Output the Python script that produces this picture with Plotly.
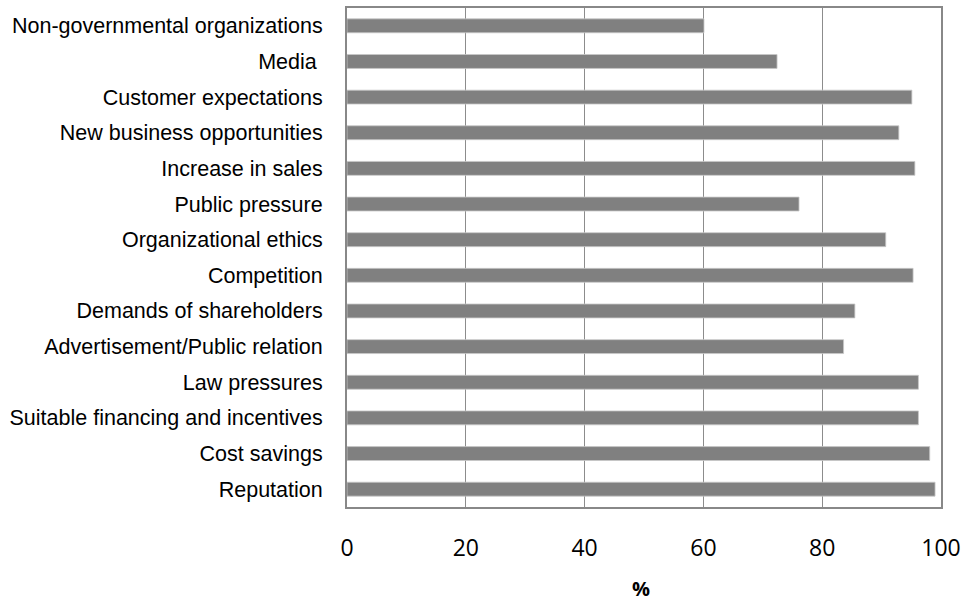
import plotly.graph_objects as go

categories = [
    "Non-governmental organizations",
    "Media ",
    "Customer expectations",
    "New business opportunities",
    "Increase in sales",
    "Public pressure",
    "Organizational ethics",
    "Competition",
    "Demands of shareholders",
    "Advertisement/Public relation",
    "Law pressures",
    "Suitable financing and incentives",
    "Cost savings",
    "Reputation",
]
values = [60.1, 72.4, 95.1, 92.9, 95.6, 76.1, 90.7, 95.3, 85.5, 83.6, 96.2, 96.2, 98.1, 99.0]
x_ticks = [0, 20, 40, 60, 80, 100]

fig = go.Figure(go.Bar(
    x=values, y=categories, orientation="h",
    marker=dict(color="#808080", line=dict(color="#c8c8c8", width=0.8)),
))

fig.update_layout(
    width=967, height=602,
    margin=dict(l=347, r=26, t=6, b=95),
    paper_bgcolor="white", plot_bgcolor="white",
    bargap=0.61, showlegend=False,
)
fig.update_xaxes(
    range=[0, 100], tickvals=x_ticks, ticks="",
    showgrid=True, gridcolor="#8c8c8c", gridwidth=1.3,
    showline=True, linecolor="#888888", linewidth=2, mirror=True,
    tickfont=dict(family="Open Sans, Liberation Sans, sans-serif", size=23, color="black"),
    ticklabelstandoff=19, zeroline=False,
)
fig.update_yaxes(
    autorange="reversed", ticks="",
    showline=True, linecolor="#888888", linewidth=2, mirror=True,
    tickfont=dict(family="Liberation Sans Narrow, Arial Narrow, Liberation Sans, sans-serif", size=21.5, color="black"),
    ticklabelstandoff=18,
)
fig.add_annotation(
    text="<b>%</b>", xref="x", yref="paper", x=49.5, y=0, yshift=-81,
    showarrow=False, font=dict(family="Open Sans, Liberation Sans, sans-serif", size=20, color="black"),
    yanchor="middle",
)

fig.write_html("out.html")
